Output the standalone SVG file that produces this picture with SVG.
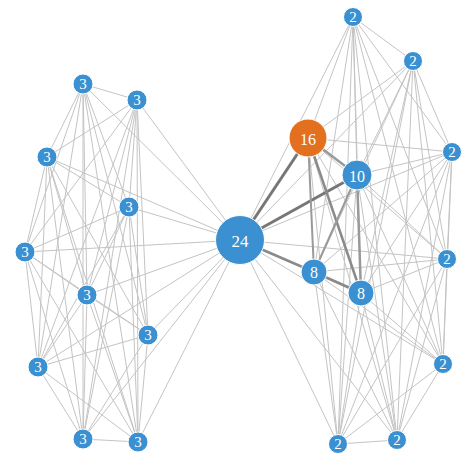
<svg xmlns="http://www.w3.org/2000/svg" width="468" height="468" viewBox="0 0 468 468">
<style>
.e{stroke:#c4c4c4;stroke-width:1;fill:none}
.t{stroke-linecap:butt;fill:none}
.n{fill:#3a90d0;stroke:#fff;stroke-width:1}
.o{fill:#e2701f;stroke:#fff;stroke-width:1}
text{font-family:"Liberation Serif","DejaVu Serif",serif;fill:#fff;text-anchor:middle;dominant-baseline:central;font-size:15px}
</style>
<rect width="468" height="468" fill="#fff"/>
<g id="edges">
<!-- left cluster complete -->
<path class="e" d="M83,84L137,100M83,84L47,157M83,84L129,207M83,84L25,252M83,84L87,295M83,84L148,335M83,84L38,367M83,84L83,439M83,84L138,442
M137,100L47,157M137,100L129,207M137,100L25,252M137,100L87,295M137,100L148,335M137,100L38,367M137,100L83,439M137,100L138,442
M47,157L129,207M47,157L25,252M47,157L87,295M47,157L148,335M47,157L38,367M47,157L83,439M47,157L138,442
M129,207L25,252M129,207L87,295M129,207L148,335M129,207L38,367M129,207L83,439M129,207L138,442
M25,252L87,295M25,252L148,335M25,252L38,367M25,252L83,439M25,252L138,442
M87,295L148,335M87,295L38,367M87,295L83,439M87,295L138,442
M148,335L38,367M148,335L83,439M148,335L138,442
M38,367L83,439M38,367L138,442
M83,439L138,442"/>
<!-- hub to left -->
<path class="e" d="M240,240L83,84M240,240L137,100M240,240L47,157M240,240L129,207M240,240L25,252M240,240L87,295M240,240L148,335M240,240L38,367M240,240L83,439M240,240L138,442"/>
<!-- hub to right small -->
<path class="e" d="M240,240L353,17M240,240L413,61M240,240L452,152M240,240L447,259M240,240L443,364M240,240L397,440M240,240L338,444"/>
<!-- right cluster complete among small -->
<path class="e" d="M353,17L413,61M353,17L452,152M353,17L447,259M353,17L443,364M353,17L397,440M353,17L338,444
M413,61L452,152M413,61L447,259M413,61L443,364M413,61L397,440M413,61L338,444
M452,152L447,259M452,152L443,364M452,152L397,440M452,152L338,444
M447,259L443,364M447,259L397,440M447,259L338,444
M443,364L397,440M443,364L338,444
M397,440L338,444"/>
<!-- small right to mid hubs -->
<path class="e" d="M308,138L353,17M308,138L413,61M308,138L452,152M308,138L447,259M308,138L443,364M308,138L397,440M308,138L338,444
M357,175L353,17M357,175L413,61M357,175L452,152M357,175L447,259M357,175L443,364M357,175L397,440M357,175L338,444
M314,272L353,17M314,272L413,61M314,272L452,152M314,272L447,259M314,272L443,364M314,272L397,440M314,272L338,444
M361,293L353,17M361,293L413,61M361,293L452,152M361,293L447,259M361,293L443,364M361,293L397,440M361,293L338,444"/>
<!-- strong edges -->
<line class="t" x1="240" y1="240" x2="308" y2="138" stroke="#777" stroke-width="3"/>
<line class="t" x1="240" y1="240" x2="357" y2="175" stroke="#777" stroke-width="3"/>
<line class="t" x1="240" y1="240" x2="314" y2="272" stroke="#8a8a8a" stroke-width="2.5"/>
<line class="t" x1="314" y1="272" x2="361" y2="293" stroke="#8a8a8a" stroke-width="3"/>
<line class="t" x1="308" y1="138" x2="357" y2="175" stroke="#999" stroke-width="2.5"/>
<line class="t" x1="308" y1="138" x2="314" y2="272" stroke="#9a9a9a" stroke-width="2"/>
<line class="t" x1="308" y1="138" x2="361" y2="293" stroke="#8a8a8a" stroke-width="2.5"/>
<line class="t" x1="357" y1="175" x2="314" y2="272" stroke="#999" stroke-width="2"/>
<line class="t" x1="357" y1="175" x2="361" y2="293" stroke="#999" stroke-width="2.5"/>
</g>
<g id="L0"><circle class="n" cx="83" cy="84" r="10"/><text x="83" y="84">3</text></g>
<g id="L1"><circle class="n" cx="137" cy="100" r="10"/><text x="137" y="100">3</text></g>
<g id="L2"><circle class="n" cx="47" cy="157" r="10"/><text x="47" y="157">3</text></g>
<g id="L3"><circle class="n" cx="129" cy="207" r="10"/><text x="129" y="207">3</text></g>
<g id="L4"><circle class="n" cx="25" cy="252" r="10"/><text x="25" y="252">3</text></g>
<g id="L5"><circle class="n" cx="87" cy="295" r="10"/><text x="87" y="295">3</text></g>
<g id="L6"><circle class="n" cx="148" cy="335" r="10"/><text x="148" y="335">3</text></g>
<g id="L7"><circle class="n" cx="38" cy="367" r="10"/><text x="38" y="367">3</text></g>
<g id="L8"><circle class="n" cx="83" cy="439" r="10"/><text x="83" y="439">3</text></g>
<g id="L9"><circle class="n" cx="138" cy="442" r="10"/><text x="138" y="442">3</text></g>
<g id="H24"><circle class="n" cx="240" cy="240" r="24.5"/><text x="240" y="241" style="font-size:17px">24</text></g>
<g id="H16"><circle class="o" cx="308" cy="138" r="19"/><text x="308" y="139" style="font-size:16px">16</text></g>
<g id="H10"><circle class="n" cx="357" cy="175" r="15"/><text x="357" y="176" style="font-size:16px">10</text></g>
<g id="H8a"><circle class="n" cx="314" cy="272" r="13"/><text x="314" y="272" style="font-size:16px">8</text></g>
<g id="H8b"><circle class="n" cx="361" cy="293" r="13"/><text x="361" y="293" style="font-size:16px">8</text></g>
<g id="R0"><circle class="n" cx="353" cy="17" r="9.5"/><text x="353" y="17">2</text></g>
<g id="R1"><circle class="n" cx="413" cy="61" r="9.5"/><text x="413" y="61">2</text></g>
<g id="R2"><circle class="n" cx="452" cy="152" r="9.5"/><text x="452" y="152">2</text></g>
<g id="R3"><circle class="n" cx="447" cy="259" r="9.5"/><text x="447" y="259">2</text></g>
<g id="R4"><circle class="n" cx="443" cy="364" r="9.5"/><text x="443" y="364">2</text></g>
<g id="R5"><circle class="n" cx="397" cy="440" r="9.5"/><text x="397" y="440">2</text></g>
<g id="R6"><circle class="n" cx="338" cy="444" r="9.5"/><text x="338" y="444">2</text></g>
</svg>
